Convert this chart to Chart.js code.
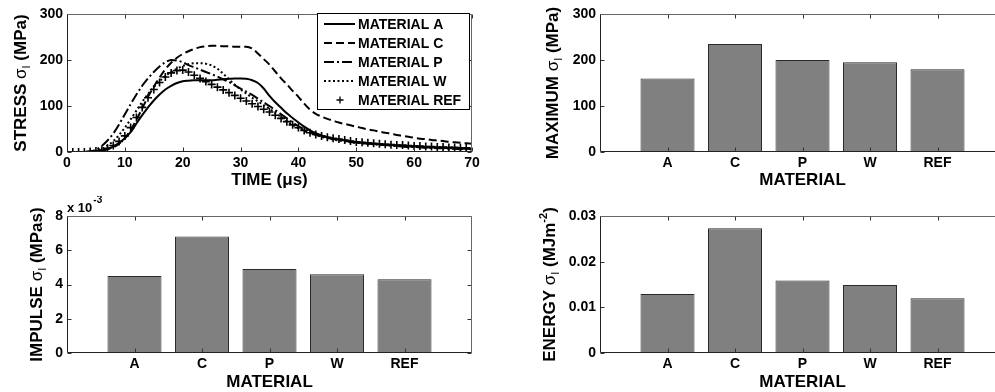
<!DOCTYPE html>
<html>
<head>
<meta charset="utf-8">
<title>Stress response by material</title>
<script src="https://cdn.jsdelivr.net/npm/chart.js@4.4.1/dist/chart.umd.min.js"></script>
<style>
  html, body { margin: 0; padding: 0; background: #fff; overflow: hidden; }
  body { width: 995px; height: 392px; position: relative; }
  canvas { position: absolute; }
</style>
</head>
<body>
<canvas id="stress" width="490" height="196" style="left:0;top:0"></canvas>
<canvas id="maximum" width="515" height="196" style="left:500px;top:0"></canvas>
<canvas id="impulse" width="490" height="200" style="left:0;top:196px"></canvas>
<canvas id="energy" width="515" height="200" style="left:500px;top:196px"></canvas>
<script>
// time axis (microseconds) and stress curves (MPa)
var timeUs = [0,1,2,3,4,5,6,7,8,9,10,11,12,13,14,15,16,17,18,19,20,21,22,23,24,25,26,27,28,29,
  30,31,32,33,34,35,36,37,38,39,40,41,42,43,44,45,46,47,48,49,50,51,52,53,54,55,56,57,58,59,
  60,61,62,63,64,65,66,67,68,69,70];
var stressA = [0,0,0,0,1,2,4,7,12,20,30,43,62,80,97,112,125,136,144,150,
  154,155,156,156,156,156,157,158,159,160,160,159,156,150,138,122,108,96,84,74,
  64,55,47,41,36,32,29,27,25,23,21,20,19,18,17,16,15,14,13,12,
  12,11,10,10,9,9,8,8,7,7,6];
var stressC = [0,0,0,0,1,1,3,6,10,18,30,48,70,95,120,142,162,180,194,205,
  213,219,224,228,230,231,231,230,230,229,229,229,225,214,202,190,175,160,147,133,
  120,105,92,83,77,72,68,64,61,58,55,52,49,47,44,42,40,37,35,33,
  31,29,28,26,25,24,22,21,20,19,18];
var stressP = [0,0,0,0,1,5,13,25,40,60,82,104,125,144,160,174,186,195,200,199,
  195,189,184,179,174,169,164,158,152,145,138,131,124,116,108,100,91,82,73,64,
  56,49,43,38,34,31,28,26,24,22,20,19,18,17,16,15,14,13,12,11,
  11,10,9,9,8,8,7,7,6,6,5];
var stressW = [0,0,0,0,1,3,7,14,24,37,53,71,90,109,126,141,154,165,174,181,
  187,191,193,193,192,188,181,170,158,146,136,127,118,110,102,94,85,76,67,59,
  52,46,41,37,33,30,27,25,23,21,20,19,18,17,16,15,14,13,13,12,
  11,11,10,10,9,9,8,8,7,7,6];
var stressRef = [0,0,0,0,1,2,4,8,14,23,35,53,75,97,118,136,151,163,172,177,
  178,174,167,160,153,147,141,135,129,123,117,111,105,99,93,87,80,73,66,59,
  53,47,42,38,35,32,30,28,26,24,22,21,20,19,18,17,16,15,15,14,
  13,13,12,12,11,11,10,10,9,9,8];

// bar charts
var materials = ['A', 'C', 'P', 'W', 'REF'];
var materialPos = [1, 2, 3, 4, 5];
var maxStress = [160, 235, 200, 195, 180];             // MPa
var impulse = [0.0045, 0.0068, 0.0049, 0.0046, 0.0043]; // MPa s
var energy = [0.0129, 0.0273, 0.0159, 0.0149, 0.0120];  // MJ m^-2

var FONT = "'Liberation Sans', Arial, Helvetica, sans-serif";
Chart.defaults.font.family = FONT;
Chart.defaults.color = '#000';
var tickFont = {size: 14, weight: 'bold'};
var titleFont = {size: 17, weight: 'bold'};

function pairs(xs, ys) {
  return ys.map(function(y, i) { return {x: xs[i], y: y}; });
}

// box round the plot and inward tick marks, like the old matlab figures
var matlabFrame = {
  id: 'matlabFrame',
  afterDatasetsDraw: function(chart) {
    var ctx = chart.ctx, a = chart.chartArea;
    var xs = chart.scales.x, ys = chart.scales.y;
    var L = Math.round(a.left) + 0.5, R = Math.round(a.right) - 0.5;
    var T = Math.round(a.top) + 0.5, B = Math.round(a.bottom) - 0.5;
    ctx.save();
    ctx.lineWidth = 1;
    ctx.strokeStyle = '#333';
    ctx.beginPath();
    xs.ticks.forEach(function(t) {
      var px = Math.round(xs.getPixelForValue(t.value)) + 0.5;
      ctx.moveTo(px, B); ctx.lineTo(px, B - 4);
      ctx.moveTo(px, T); ctx.lineTo(px, T + 4);
    });
    ys.ticks.forEach(function(t) {
      var py = Math.round(ys.getPixelForValue(t.value)) + 0.5;
      ctx.moveTo(L, py); ctx.lineTo(L + 4, py);
      ctx.moveTo(R, py); ctx.lineTo(R - 4, py);
    });
    ctx.stroke();
    ctx.strokeStyle = '#666';
    ctx.beginPath();
    ctx.moveTo(L, T); ctx.lineTo(R, T); ctx.lineTo(R, B);
    ctx.stroke();
    ctx.strokeStyle = '#222';
    ctx.beginPath();
    ctx.moveTo(L, T); ctx.lineTo(L, B); ctx.lineTo(R, B);
    ctx.stroke();
    ctx.restore();
  }
};

function drawRich(ctx, parts, size) {
  var total = 0;
  parts.forEach(function(p) {
    ctx.font = (p.weight || 'bold') + ' ' + (p.script ? 11 : size) + 'px ' + FONT;
    p.w = ctx.measureText(p.text).width;
    total += p.w;
  });
  var x = -total / 2;
  ctx.textAlign = 'left';
  ctx.textBaseline = 'alphabetic';
  parts.forEach(function(p) {
    ctx.font = (p.weight || 'bold') + ' ' + (p.script ? 11 : size) + 'px ' + FONT;
    var dy = size * 0.36 + (p.script === 'sub' ? 4 : p.script === 'sup' ? -8 : 0);
    ctx.fillText(p.text, x, dy);
    x += p.w;
  });
}

// y axis title with sub/superscripts, dx = distance left of the plot
function yTitle(parts, dx, exponent) {
  return {
    id: 'yTitle',
    afterDraw: function(chart) {
      var ctx = chart.ctx, a = chart.chartArea;
      ctx.save();
      ctx.fillStyle = '#000';
      ctx.translate(a.left - dx, (a.top + a.bottom) / 2);
      ctx.rotate(-Math.PI / 2);
      drawRich(ctx, parts, 17);
      ctx.restore();
      if (exponent) {
        ctx.save();
        ctx.fillStyle = '#000';
        ctx.textAlign = 'left';
        ctx.textBaseline = 'alphabetic';
        ctx.font = 'bold 13px ' + FONT;
        ctx.fillText('x 10', a.left, a.top - 4);
        var w = ctx.measureText('x 10').width;
        ctx.font = 'bold 10px ' + FONT;
        ctx.fillText(exponent, a.left + w + 1, a.top - 13);
        ctx.restore();
      }
    }
  };
}

var boxLegend = {
  id: 'boxLegend',
  afterDraw: function(chart) {
    var ctx = chart.ctx, a = chart.chartArea;
    var w = 152, h = 96;
    var x0 = Math.round(a.right) - 3 - w, y0 = Math.round(a.top) - 1;
    ctx.save();
    ctx.fillStyle = '#fff';
    ctx.fillRect(x0, y0, w, h);
    ctx.strokeStyle = '#000';
    ctx.lineWidth = 1;
    ctx.strokeRect(x0 + 0.5, y0 + 0.5, w, h);
    chart.data.datasets.forEach(function(ds, i) {
      var cy = y0 + 11 + i * 19;
      ctx.strokeStyle = '#000';
      if (ds.showLine === false) {
        ctx.lineWidth = 1.3;
        ctx.beginPath();
        ctx.moveTo(x0 + 23 - 3.5, cy); ctx.lineTo(x0 + 23 + 3.5, cy);
        ctx.moveTo(x0 + 23, cy - 3.5); ctx.lineTo(x0 + 23, cy + 3.5);
        ctx.stroke();
      } else {
        ctx.lineWidth = ds.borderWidth;
        ctx.setLineDash(ds.borderDash || []);
        ctx.beginPath();
        ctx.moveTo(x0 + 7, cy); ctx.lineTo(x0 + 38, cy);
        ctx.stroke();
        ctx.setLineDash([]);
      }
      ctx.fillStyle = '#000';
      ctx.font = 'bold 14px ' + FONT;
      ctx.textAlign = 'left';
      ctx.textBaseline = 'middle';
      ctx.fillText(ds.label, x0 + 41, cy + 1);
    });
    ctx.restore();
  }
};

function axes(o) {
  var sc = {
    x: {
      type: 'linear', min: o.xMin, max: o.xMax, offset: false,
      grid: {display: false, drawTicks: false, offset: false},
      border: {display: false},
      ticks: {stepSize: o.xStep, padding: 3, font: tickFont, maxRotation: 0, autoSkip: false, callback: o.xLabel},
      title: {display: true, text: o.xTitle, font: titleFont, padding: {top: 0, bottom: o.titlePad}},
      afterFit: function(s) { s.height = o.xHeight; }
    },
    y: {
      min: 0, max: o.yMax,
      grid: {display: false, drawTicks: false},
      border: {display: false},
      ticks: {stepSize: o.yStep, padding: 4, font: tickFont, callback: o.yLabel},
      afterFit: function(s) { s.width = o.yWidth; }
    }
  };
  if (o.xTicks) sc.x.afterBuildTicks = o.xTicks;
  return sc;
}

function lineSet(label, values, dash) {
  return {
    label: label, data: pairs(timeUs, values),
    borderColor: '#000', borderWidth: 2, borderDash: dash,
    pointRadius: 0, cubicInterpolationMode: 'monotone', fill: false
  };
}

new Chart(document.getElementById('stress'), {
  type: 'line',
  data: {
    datasets: [
      lineSet('MATERIAL A', stressA, []),
      lineSet('MATERIAL C', stressC, [8, 4]),
      lineSet('MATERIAL P', stressP, [10, 3, 2, 3]),
      lineSet('MATERIAL W', stressW, [2, 2.5]),
      {
        label: 'MATERIAL REF', data: pairs(timeUs, stressRef), showLine: false,
        pointStyle: 'cross', pointRadius: 4, pointBorderWidth: 1.6,
        pointBorderColor: '#000', borderColor: '#000'
      }
    ]
  },
  options: {
    responsive: false, animation: false,
    layout: {padding: {top: 14, right: 18, left: 0, bottom: 0}},
    plugins: {legend: {display: false}, tooltip: {enabled: false}},
    scales: axes({
      xMin: 0, xMax: 70, xStep: 10, xTitle: 'TIME (\u03bcs)', titlePad: 5, xHeight: 44,
      xLabel: function(v) { return v; },
      yMax: 300, yStep: 100, yWidth: 67, yLabel: function(v) { return v; }
    })
  },
  plugins: [matlabFrame, boxLegend,
    yTitle([{text: 'STRESS '}, {text: '\u03c3', weight: 'normal'}, {text: 'I', script: 'sub', weight: 'normal'}, {text: ' (MPa)'}], 47)]
});

function barChart(id, values, o, titlePlugin) {
  o.xMin = 0; o.xMax = 6; o.xStep = 1; o.xTitle = 'MATERIAL';
  o.xTicks = function(s) { s.ticks = materialPos.map(function(v) { return {value: v}; }); };
  o.xLabel = function(v) { return materials[materialPos.indexOf(v)]; };
  return new Chart(document.getElementById(id), {
    type: 'bar',
    data: {
      datasets: [{
        data: pairs(materialPos, values),
        backgroundColor: '#808080', borderColor: '#2a2a2a', borderWidth: 1,
        barPercentage: 0.8, categoryPercentage: 1
      }]
    },
    options: {
      responsive: false, animation: false,
      layout: {padding: {top: o.padTop, right: o.padRight, left: 0, bottom: 0}},
      plugins: {legend: {display: false}, tooltip: {enabled: false}},
      scales: axes(o)
    },
    plugins: [matlabFrame, titlePlugin]
  });
}

barChart('maximum', maxStress, {
  padTop: 14, padRight: 10, yWidth: 100, titlePad: 5, xHeight: 44, yMax: 300, yStep: 100,
  yLabel: function(v) { return v; }
}, yTitle([{text: 'MAXIMUM '}, {text: '\u03c3', weight: 'normal'}, {text: 'I', script: 'sub', weight: 'normal'}, {text: ' (MPa)'}], 48));

barChart('impulse', impulse, {
  padTop: 20, padRight: 18, yWidth: 67, titlePad: 3, xHeight: 43, yMax: 0.008, yStep: 0.002,
  yLabel: function(v) { return Math.round(v * 1000); }
}, yTitle([{text: 'IMPULSE '}, {text: '\u03c3', weight: 'normal'}, {text: 'I', script: 'sub', weight: 'normal'}, {text: ' (MPas)'}], 31, '-3'));

barChart('energy', energy, {
  padTop: 20, padRight: 10, yWidth: 100, titlePad: 3, xHeight: 43, yMax: 0.03, yStep: 0.01,
  yLabel: function(v) { return v === 0 ? '0' : v.toFixed(2); }
}, yTitle([{text: 'ENERGY '}, {text: '\u03c3', weight: 'normal'}, {text: 'I', script: 'sub', weight: 'normal'}, {text: ' (MJm'}, {text: '-2', script: 'sup'}, {text: ')'}], 51));
</script>
</body>
</html>
